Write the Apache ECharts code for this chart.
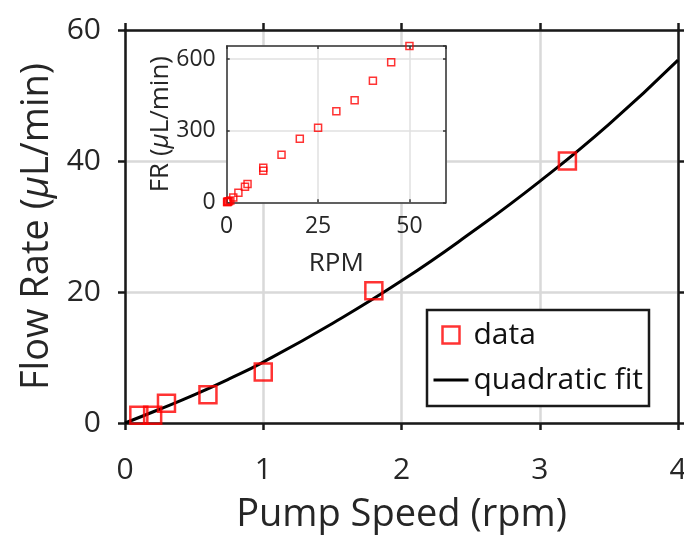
<!DOCTYPE html>
<html><head><meta charset="utf-8">
<script src="https://cdn.jsdelivr.net/npm/echarts@6/dist/echarts.min.js"></script>
<style>html,body{margin:0;padding:0;background:#fff}#c{width:684px;height:535px}</style>
</head><body><div id="c"></div>
<script>
// Main plot data
const pumpSpeed = [0.1, 0.2, 0.3, 0.6, 1.0, 1.8, 3.2];
const flowRate = [1.2, 1.2, 3.0, 4.3, 7.8, 20.2, 40.0];
// Quadratic fit curve
const fitSpeed = [0, 0.25, 0.5, 0.75, 1, 1.5, 2, 2.5, 3, 3.5, 4];
const fitFlow = [0, 2.1, 4.3, 6.7, 9.3, 15.2, 21.7, 29.0, 36.9, 45.6, 55.4];
// Inset data
const insetRpm = [0.1, 0.2, 0.3, 0.6, 1.0, 1.8, 3.2, 5, 5.7, 10, 10, 15, 20, 25, 30, 35, 40, 45, 50];
const insetFR = [1.2, 1.2, 3.0, 4.3, 7.8, 20.2, 40, 65, 77, 132, 145, 199, 266, 312, 382, 428, 509, 587, 655];
// Axis ticks
const mainXTicks = [0, 1, 2, 3, 4];
const mainYTicks = [0, 20, 40, 60];
const insetXTicks = [0, 25, 50];
const insetYTicks = [0, 300, 600];

const FONT = 'Open Sans';
const TXT = '#262626';
const AX = '#1a1a1a';

const chart = echarts.init(document.getElementById('c'), null, {renderer: 'canvas'});

function zip(a, b) { return a.map((v, i) => [v, b[i]]); }

const mainGridLine = {show: true, lineStyle: {color: '#d9d9d9', width: 2.5}};
const insetGridLine = {show: true, lineStyle: {color: '#e0e0e0', width: 1.5}};

chart.setOption({
  animation: false,
  backgroundColor: '#fff',
  grid: [
    {left: 125, top: 30, width: 553, height: 393, z: 0, containLabel: false, outerBoundsMode: 'none'},
    {left: 226.7, top: 46, width: 219.3, height: 156.3, show: true, backgroundColor: '#ffffff', borderWidth: 0, z: 3,
     containLabel: false, outerBoundsMode: 'none'}
  ],
  xAxis: [
    {type: 'value', gridIndex: 0, min: mainXTicks[0], max: mainXTicks[mainXTicks.length - 1], interval: 1,
     axisLine: {show: true, onZero: false, lineStyle: {color: AX, width: 2.5}},
     axisTick: {show: true, inside: false, length: 7, lineStyle: {color: AX, width: 2.5}},
     axisLabel: {margin: 32, color: TXT, fontFamily: FONT, fontSize: 30},
     splitLine: mainGridLine,
     name: 'Pump Speed (rpm)', nameLocation: 'middle', nameGap: 73, nameMoveOverlap: false,
     nameTextStyle: {color: TXT, fontFamily: FONT, fontSize: 38}},
    {type: 'value', gridIndex: 0, position: 'top', min: 0, max: 4, interval: 1,
     axisLine: {show: true, onZero: false, lineStyle: {color: AX, width: 2.5}},
     axisTick: {show: true, inside: false, length: 7, lineStyle: {color: AX, width: 2.5}},
     axisLabel: {show: false}, splitLine: {show: false}},
    {type: 'value', gridIndex: 1, min: 0, max: 60, interval: 25, z: 4,
     axisLine: {show: true, onZero: false, lineStyle: {color: '#333', width: 1.5}},
     axisTick: {show: true, inside: true, length: 3, lineStyle: {color: '#333', width: 1.5}},
     axisLabel: {margin: 13, color: TXT, fontFamily: FONT, fontSize: 23, showMaxLabel: false,
       formatter: v => (insetXTicks.indexOf(v) >= 0 ? String(v) : '')},
     splitLine: insetGridLine,
     name: 'RPM', nameLocation: 'middle', nameGap: 48, nameMoveOverlap: false,
     nameTextStyle: {color: TXT, fontFamily: FONT, fontSize: 26}},
    {type: 'value', gridIndex: 1, position: 'top', min: 0, max: 60, interval: 25, z: 4,
     axisLine: {show: true, onZero: false, lineStyle: {color: '#333', width: 1.5}},
     axisTick: {show: true, inside: true, length: 3, lineStyle: {color: '#333', width: 1.5}},
     axisLabel: {show: false}, splitLine: {show: false}}
  ],
  yAxis: [
    {type: 'value', gridIndex: 0, min: mainYTicks[0], max: mainYTicks[mainYTicks.length - 1], interval: 20,
     axisLine: {show: true, onZero: false, lineStyle: {color: AX, width: 2.5}},
     axisTick: {show: true, inside: false, length: 7, lineStyle: {color: AX, width: 2.5}},
     axisLabel: {margin: 24, color: TXT, fontFamily: FONT, fontSize: 30},
     splitLine: mainGridLine,
     name: 'Flow Rate ({mu|μ}L/min)', nameLocation: 'middle', nameGap: 69, nameMoveOverlap: false,
     nameTextStyle: {color: TXT, fontFamily: FONT, fontSize: 38,
       rich: {mu: {color: TXT, fontFamily: FONT, fontSize: 38, fontStyle: 'italic'}}}},
    {type: 'value', gridIndex: 0, position: 'right', min: 0, max: 60, interval: 20,
     axisLine: {show: true, onZero: false, lineStyle: {color: AX, width: 2.5}},
     axisTick: {show: true, inside: false, length: 7, lineStyle: {color: AX, width: 2.5}},
     axisLabel: {show: false}, splitLine: {show: false}},
    {type: 'value', gridIndex: 1, min: 0, max: 655, interval: 300, z: 4,
     axisLine: {show: true, onZero: false, lineStyle: {color: '#333', width: 1.5}},
     axisTick: {show: true, inside: true, length: 3, lineStyle: {color: '#333', width: 1.5}},
     axisLabel: {margin: 11, color: TXT, fontFamily: FONT, fontSize: 23, showMaxLabel: false,
       formatter: v => (insetYTicks.indexOf(v) >= 0 ? String(v) : '')},
     splitLine: insetGridLine,
     name: 'FR ({mu|μ}L/min)', nameLocation: 'middle', nameGap: 53, nameMoveOverlap: false,
     nameTextStyle: {color: TXT, fontFamily: FONT, fontSize: 26,
       rich: {mu: {color: TXT, fontFamily: FONT, fontSize: 26, fontStyle: 'italic'}}}},
    {type: 'value', gridIndex: 1, position: 'right', min: 0, max: 655, interval: 300, z: 4,
     axisLine: {show: true, onZero: false, lineStyle: {color: '#333', width: 1.5}},
     axisTick: {show: true, inside: true, length: 3, lineStyle: {color: '#333', width: 1.5}},
     axisLabel: {show: false}, splitLine: {show: false}}
  ],
  legend: {
    orient: 'vertical', left: 427, top: 310, z: 6,
    padding: [10, 6, 11, 5], itemGap: 15, itemWidth: 35, itemHeight: 17,
    backgroundColor: '#ffffff', borderColor: AX, borderWidth: 2.5, borderRadius: 0,
    textStyle: {color: '#111', fontFamily: FONT, fontSize: 30, lineHeight: 30},
    symbolKeepAspect: true,
    data: [
      {name: 'data', icon: 'path://M0,0L10,0L10,10L0,10Z',
       itemStyle: {color: 'rgba(0,0,0,0)', borderColor: '#ff0000', borderWidth: 2.5}},
      {name: 'quadratic fit',
       itemStyle: {color: 'rgba(0,0,0,0)', borderColor: 'rgba(0,0,0,0)', borderWidth: 0, opacity: 0},
       lineStyle: {color: '#000', width: 3}}
    ]
  },
  series: [
    {name: 'quadratic fit', type: 'line', xAxisIndex: 0, yAxisIndex: 0, z: 2,
     data: zip(fitSpeed, fitFlow), smooth: true, symbol: 'none', showSymbol: false,
     lineStyle: {color: '#000', width: 3}, itemStyle: {color: '#000'}},
    {name: 'data', type: 'scatter', xAxisIndex: 0, yAxisIndex: 0, z: 3,
     data: zip(pumpSpeed, flowRate), symbol: 'rect', symbolSize: 17,
     itemStyle: {color: 'rgba(0,0,0,0)', borderColor: '#ff0000', borderWidth: 2.5}},
    {name: 'inset', type: 'scatter', xAxisIndex: 2, yAxisIndex: 2, z: 5,
     data: zip(insetRpm, insetFR), symbol: 'rect', symbolSize: 7,
     itemStyle: {color: 'rgba(0,0,0,0)', borderColor: '#ff0000', borderWidth: 1.5}}
  ]
});
</script></body></html>
